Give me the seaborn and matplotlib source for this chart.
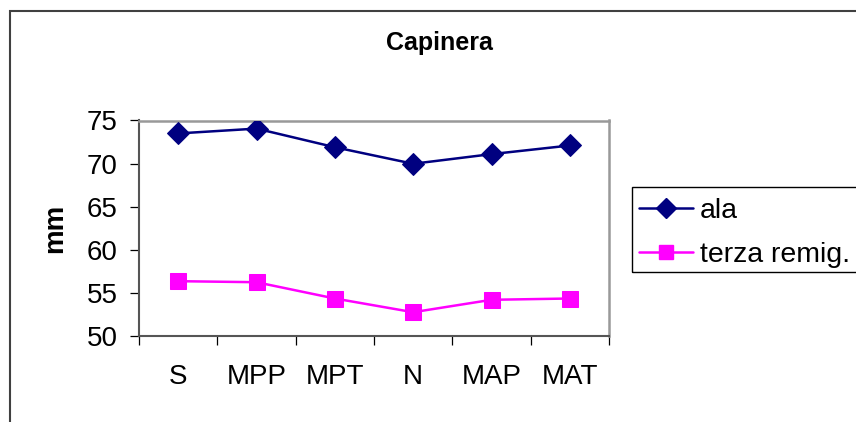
import matplotlib
matplotlib.use("Agg")
import matplotlib.pyplot as plt
import seaborn as sns
import pandas as pd
import numpy as np
from matplotlib.patches import Rectangle
from matplotlib.lines import Line2D

categories = ["S", "MPP", "MPT", "N", "MAP", "MAT"]
ala = [73.5, 74.06, 71.9, 69.98, 71.1, 72.1]
terza_remig = [56.36, 56.24, 54.35, 52.76, 54.2, 54.35]
series_names = ["ala", "terza remig."]
title = "Capinera"
ylabel = "mm"

sns.set_style("white")
plt.rcParams["font.family"] = ["Liberation Sans", "DejaVu Sans"]
plt.rcParams["text.color"] = "black"
plt.rcParams["axes.labelcolor"] = "black"
plt.rcParams["xtick.color"] = "black"
plt.rcParams["ytick.color"] = "black"

FS = 20
W, H = 856, 422
fig = plt.figure(figsize=(W / 100, H / 100), dpi=100)
ax = fig.add_axes([139 / W, 1 - 336 / H, (609 - 139) / W, (336 - 120.5) / H])

idx = np.arange(len(categories))
df = pd.DataFrame({"x": np.concatenate([idx, idx]),
                   "y": ala + terza_remig,
                   "serie": [series_names[0]] * len(idx) + [series_names[1]] * len(idx)})

sns.lineplot(data=df[df.serie == series_names[0]], x="x", y="y", ax=ax,
             color="#000080", marker="D", markersize=11, markeredgecolor="#000080",
             linewidth=1.8, legend=False, zorder=3)
sns.lineplot(data=df[df.serie == series_names[1]], x="x", y="y", ax=ax,
             color="#FF00FF", marker="s", markersize=11, markeredgecolor="#FF00FF",
             linewidth=1.8, legend=False, zorder=3)

ax.set_xlim(-0.5, len(categories) - 0.5)
ax.set_ylim(50, 75)
ax.set_yticks([50, 55, 60, 65, 70, 75])
ax.set_xticks(idx)
ax.set_xticklabels(categories)
ax.set_xticks(np.arange(-0.5, len(categories)), minor=True)
ax.tick_params(axis="x", which="major", length=0, pad=20, labelsize=FS, colors="black")
ax.tick_params(axis="x", which="minor", length=6.5, width=0.9, color="black", bottom=True, direction="out")
ax.tick_params(axis="y", which="major", length=6.5, width=0.9, color="black", pad=9,
               labelsize=FS, left=True, direction="out")
ax.set_xlabel("")
ax.set_ylabel(ylabel, fontsize=FS, fontweight="bold", labelpad=13)

for s in ["left", "bottom"]:
    ax.spines[s].set_color("#555555")
    ax.spines[s].set_linewidth(1.5)
for s in ["top", "right"]:
    ax.spines[s].set_color("#999999")
    ax.spines[s].set_linewidth(1.8)
ax.set_facecolor("white")

fig.text(439 / W, 1 - 43 / H, title, ha="center", va="center", fontsize=18, fontweight="bold")

# outer chart frame
fig.patches.append(Rectangle((9.5 / W, -0.05), 1.1, 1 - 10.5 / H + 0.05, transform=fig.transFigure,
                             fill=False, edgecolor="#404040", linewidth=1.5, zorder=0))

# legend
handles = [Line2D([], [], color="#000080", marker="D", markersize=10, linewidth=1.8),
           Line2D([], [], color="#FF00FF", marker="s", markersize=10.5, linewidth=1.8)]
fig.legend(handles, series_names, loc="center left", bbox_to_anchor=(639 / W, 1 - 233 / H),
           bbox_transform=fig.transFigure, frameon=False, fontsize=20.5, borderaxespad=0,
           borderpad=0, handlelength=1.9, handletextpad=0.25, labelspacing=0.62)
fig.patches.append(Rectangle((631.5 / W, 1 - 271.5 / H), 0.3, 84 / H, transform=fig.transFigure,
                             fill=False, edgecolor="black", linewidth=1.0))

fig.savefig("out.png", dpi=100)
